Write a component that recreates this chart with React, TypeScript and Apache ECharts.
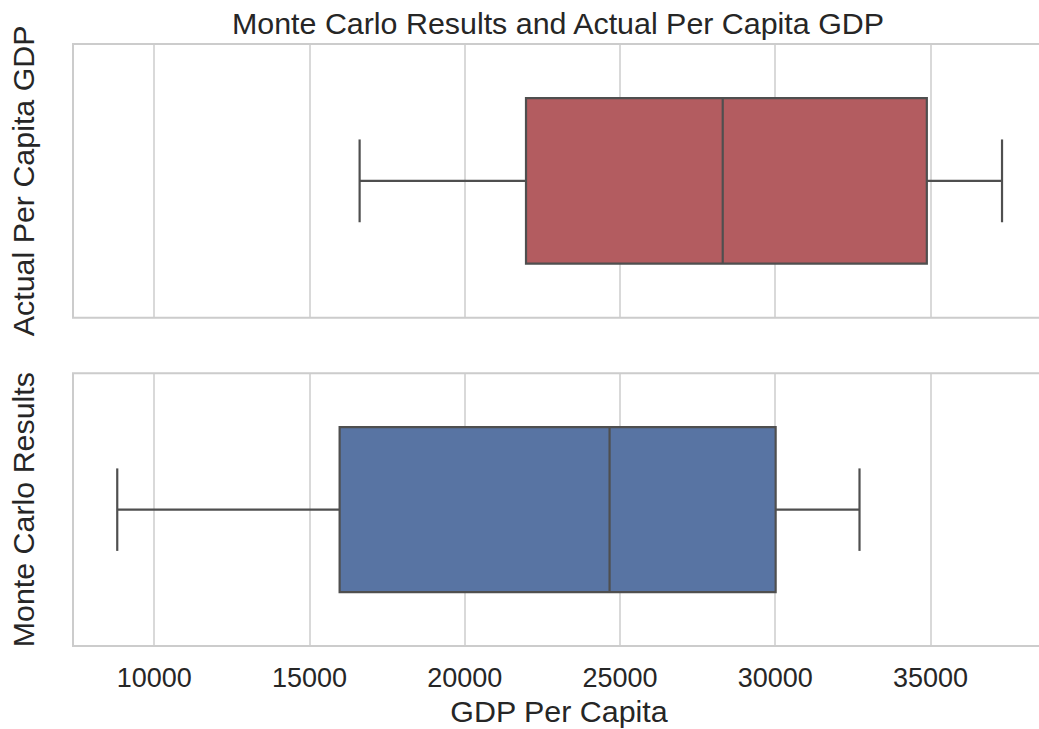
import React, { useEffect, useRef } from 'react';
import * as echarts from 'echarts';

const TITLE = 'Monte Carlo Results and Actual Per Capita GDP';
const X_LABEL = 'GDP Per Capita';
const X_TICKS = [10000, 15000, 20000, 25000, 30000, 35000];
const X_MIN = 7385;
const X_MAX = 38690;

// Five-number summaries: [lower whisker, Q1, median, Q3, upper whisker]
const ACTUAL_NAME = 'Actual Per Capita GDP';
const ACTUAL_STATS = [16616, 21975, 28311, 34884, 37306];
const MONTE_NAME = 'Monte Carlo Results';
const MONTE_STATS = [8810, 15972, 24666, 30015, 32716];

const FONT = '"Liberation Sans", Arial, Helvetica, sans-serif';
const TEXT_COLOR = '#262626';
const EDGE_COLOR = '#cccccc';
const LINE_COLOR = '#4f4f4f';
const RED = '#b35c60';
const BLUE = '#5874a3';
const BOX_FRACTION = 0.605;
const LABEL_SIZE = 30.4;
const TICK_SIZE = 27;

function makeRenderer(fill: string) {
  return (_params: any, api: any) => {
    const cat = api.value(0);
    const xs = [1, 2, 3, 4, 5].map((i) => api.coord([api.value(i), cat])[0]);
    const yc = api.coord([api.value(3), cat])[1];
    const band = api.size([0, 1])[1];
    const half = (band * BOX_FRACTION) / 2;
    const cap = half / 2;
    const [xLo, xQ1, xMed, xQ3, xHi] = xs;
    const lineStyle = { stroke: LINE_COLOR, lineWidth: 2.2, fill: null };
    return {
      type: 'group',
      children: [
        { type: 'line', shape: { x1: xLo, y1: yc, x2: xQ1, y2: yc }, style: lineStyle },
        { type: 'line', shape: { x1: xQ3, y1: yc, x2: xHi, y2: yc }, style: lineStyle },
        { type: 'line', shape: { x1: xLo, y1: yc - cap, x2: xLo, y2: yc + cap }, style: lineStyle },
        { type: 'line', shape: { x1: xHi, y1: yc - cap, x2: xHi, y2: yc + cap }, style: lineStyle },
        {
          type: 'rect',
          shape: { x: xQ1, y: yc - half, width: xQ3 - xQ1, height: half * 2 },
          style: { fill, stroke: LINE_COLOR, lineWidth: 2.2 },
        },
        { type: 'line', shape: { x1: xMed, y1: yc - half, x2: xMed, y2: yc + half }, style: lineStyle },
      ],
    };
  };
}

function xAxisFor(gridIndex: number, showLabels: boolean) {
  return {
    type: 'value',
    gridIndex,
    min: X_MIN,
    max: X_MAX,
    axisLine: { show: false },
    axisTick: { show: false, customValues: X_TICKS },
    axisLabel: {
      show: showLabels,
      customValues: X_TICKS,
      formatter: (v: number) => String(v),
      margin: 18,
      fontSize: TICK_SIZE,
      lineHeight: TICK_SIZE,
      color: TEXT_COLOR,
      fontFamily: FONT,
    },
    splitLine: { show: true, lineStyle: { color: EDGE_COLOR, width: 1.5 } },
    name: showLabels ? X_LABEL : '',
    nameLocation: 'middle',
    nameGap: 50,
    nameTextStyle: { fontSize: LABEL_SIZE, lineHeight: 30, color: TEXT_COLOR, fontFamily: FONT },
  };
}

function yAxisFor(gridIndex: number, name: string) {
  return {
    type: 'category',
    gridIndex,
    data: [name],
    axisLine: { show: false },
    axisTick: { show: false },
    axisLabel: { show: false },
    splitLine: { show: false },
    name,
    nameLocation: 'middle',
    nameRotate: 90,
    nameGap: 35,
    nameTextStyle: { fontSize: LABEL_SIZE, lineHeight: 30, color: TEXT_COLOR, fontFamily: FONT },
  };
}

export default function App() {
  const ref = useRef<HTMLDivElement>(null);

  useEffect(() => {
    if (!ref.current) return;
    const chart = echarts.init(ref.current, undefined, { renderer: 'svg' });
    // The plot area runs a few pixels past the visible frame, so its right edge is cut off.
    const gridBase = { show: true, borderColor: EDGE_COLOR, borderWidth: 2, backgroundColor: '#ffffff', left: 71.7, right: 0 };
    chart.setOption({
      animation: false,
      backgroundColor: '#ffffff',
      textStyle: { fontFamily: FONT },
      title: {
        text: TITLE,
        left: 558,
        top: 8,
        textAlign: 'center',
        padding: 0,
        textStyle: { fontSize: LABEL_SIZE, lineHeight: 30, fontWeight: 'normal', color: TEXT_COLOR, fontFamily: FONT },
      },
      grid: [
        { ...gridBase, top: 44, height: 273.7 },
        { ...gridBase, top: 373.3, height: 272.7 },
      ],
      xAxis: [xAxisFor(0, false), xAxisFor(1, true)],
      yAxis: [yAxisFor(0, ACTUAL_NAME), yAxisFor(1, MONTE_NAME)],
      series: [
        {
          type: 'custom',
          name: ACTUAL_NAME,
          xAxisIndex: 0,
          yAxisIndex: 0,
          renderItem: makeRenderer(RED),
          encode: { x: [1, 2, 3, 4, 5], y: 0 },
          data: [[0, ...ACTUAL_STATS]],
        },
        {
          type: 'custom',
          name: MONTE_NAME,
          xAxisIndex: 1,
          yAxisIndex: 1,
          renderItem: makeRenderer(BLUE),
          encode: { x: [1, 2, 3, 4, 5], y: 0 },
          data: [[0, ...MONTE_STATS]],
        },
      ],
    });
    return () => chart.dispose();
  }, []);

  return (
    <div style={{ position: 'fixed', left: 0, top: 0, width: 1039, height: 729, overflow: 'hidden', background: '#ffffff' }}>
      <div ref={ref} style={{ width: 1045, height: 729 }} />
    </div>
  );
}
